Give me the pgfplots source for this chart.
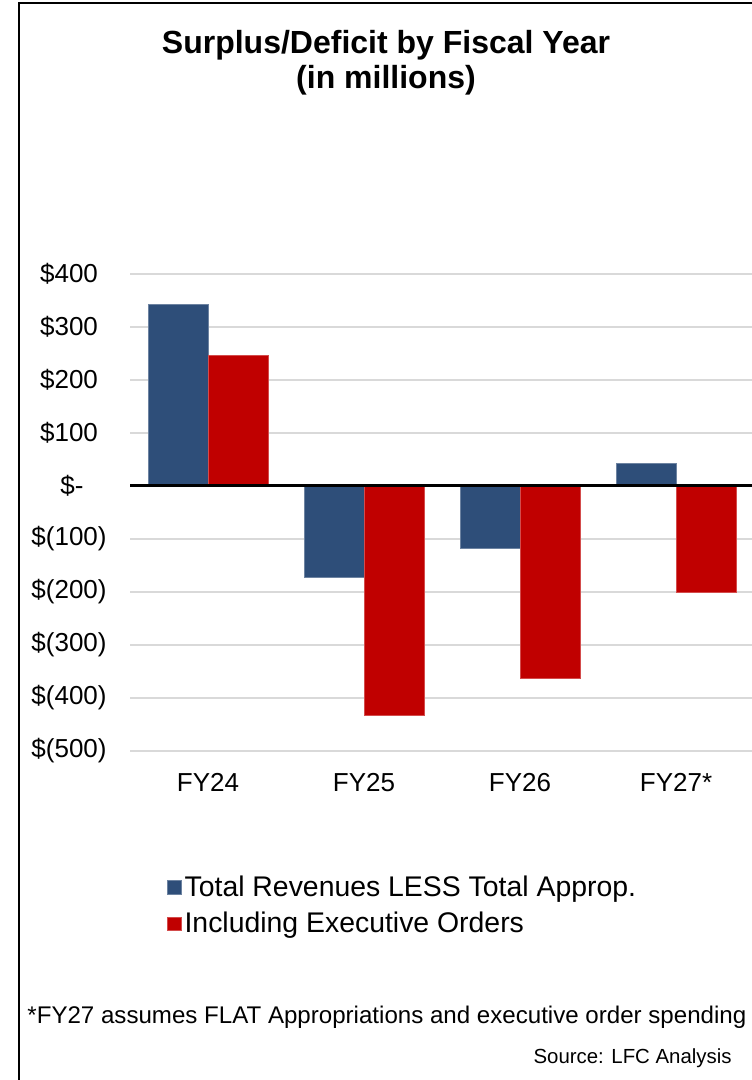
\documentclass[border=0pt]{standalone}
\usepackage{pgfplots}
\pgfplotsset{compat=1.18}
\usepackage{fontspec}
\setmainfont{Liberation Sans}
\definecolor{barblue}{RGB}{46,78,121}
\definecolor{barred}{RGB}{192,0,0}
\definecolor{gridgray}{RGB}{217,217,217}
\begin{document}
\begin{tikzpicture}
\useasboundingbox (0,0) rectangle (375.5pt,540pt);
\draw[line width=1pt] (9.5pt,0) -- (9.5pt,538.5pt) -- (380pt,538.5pt);
\node[align=center,font=\fontsize{16}{17.5}\selectfont\bfseries] at (193pt,508.75pt) {Surplus/Deficit by Fiscal Year\\(in millions)};
\begin{axis}[
  at={(65pt,164.5pt)}, anchor=south west,
  scale only axis, width=312pt, height=238.5pt,
  xmin=-0.5, xmax=3.5, ymin=-500, ymax=400,
  axis line style={draw=none},
  major tick length=0pt,
  ybar, ybar=0pt, bar width=30pt,
  xtick={0,1,2,3}, xticklabels={FY24,FY25,FY26,FY27*},
  ytick={-500,-400,-300,-200,-100,0,100,200,300,400},
  yticklabels={\$(500),\$(400),\$(300),\$(200),\$(100),\$-\hphantom{0)},\$100\hphantom{)},\$200\hphantom{)},\$300\hphantom{)},\$400\hphantom{)}},
  ymajorgrids, grid style={gridgray,line width=1pt},
  yticklabel style={font=\fontsize{13}{15}\selectfont, anchor=east, inner sep=0pt, xshift=-11.5pt},
  xticklabel style={font=\fontsize{13}{15}\selectfont, anchor=north, inner sep=0pt, yshift=-11pt},
  legend style={at={(0.0593,-0.254)}, anchor=north west, draw=none, fill=none,
    font=\fontsize{14.2}{16}\selectfont, row sep=3.5pt, inner sep=0pt,
    nodes={inner sep=1.5pt}},
  legend cell align=left,
  legend image code/.code={\fill[#1] (0pt,-3.4pt) rectangle (6.8pt,3.4pt);},
]
\addplot[fill=barblue, draw=barblue!70!white, line width=0.3pt] coordinates {(0,343) (1,-172) (2,-117) (3,43)};
\addplot[fill=barred, draw=barred!70!white, line width=0.3pt] coordinates {(0,247) (1,-432) (2,-362) (3,-200)};
\legend{Total Revenues LESS Total Approp., Including Executive Orders}
\draw[black, line width=1.5pt] (axis cs:-0.5,0) -- (axis cs:3.5,0);
\end{axis}
\node[anchor=west,inner sep=0pt,font=\fontsize{12.05}{14}\selectfont] at (13.5pt,31.5pt) {*FY27 assumes FLAT Appropriations and executive order spending};
\node[anchor=east,inner sep=0pt,font=\fontsize{10.2}{12}\selectfont] at (366pt,11pt) {Source: LFC Analysis};
\end{tikzpicture}
\end{document}
